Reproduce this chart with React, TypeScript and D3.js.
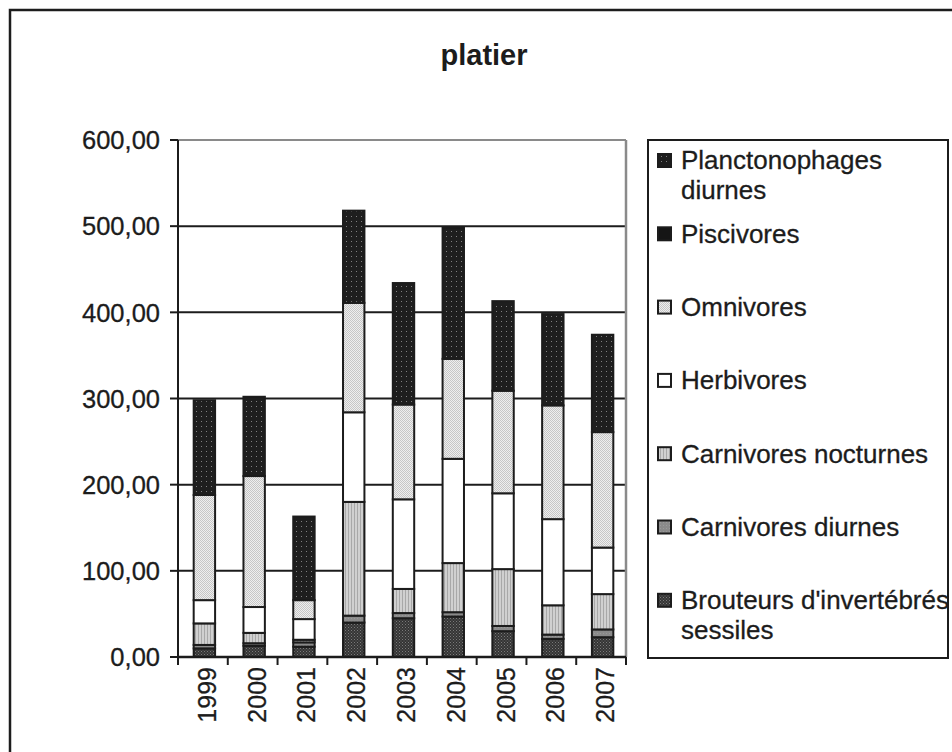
import React from 'react';
import * as d3 from 'd3';

// data (values stack bottom -> top)
const years = ['1999', '2000', '2001', '2002', '2003', '2004', '2005', '2006', '2007'];
const brouteurs = [10, 13, 12, 40, 45, 47, 30, 21, 23];
const carnDiurnes = [4, 3, 5, 8, 6, 5, 6, 5, 9];
const carnNocturnes = [25, 12, 3, 132, 28, 57, 66, 34, 41];
const herbivores = [27, 30, 24, 104, 104, 121, 88, 100, 54];
const omnivores = [122, 152, 22, 127, 110, 116, 119, 132, 134];
const piscivores = [0, 0, 0, 0, 0, 0, 0, 0, 0];
const planctonophages = [110, 92, 97, 107, 141, 152, 104, 106, 113];
const yTicks = [0, 100, 200, 300, 400, 500, 600];

const seriesKeys = ['brout', 'carnD', 'carnN', 'herb', 'omni', 'pisc', 'planct'];
const seriesLabels = [
  ["Brouteurs d'invertébrés", 'sessiles'],
  ['Carnivores diurnes'],
  ['Carnivores nocturnes'],
  ['Herbivores'],
  ['Omnivores'],
  ['Piscivores'],
  ['Planctonophages', 'diurnes'],
];
const seriesValues = [brouteurs, carnDiurnes, carnNocturnes, herbivores, omnivores, piscivores, planctonophages];

const W = 952;
const H = 752;
const margin = { left: 178, right: 626, top: 140, bottom: 657 };
const font = '"Liberation Sans", Arial, sans-serif';
const ink = '#1c1c1c';

const locale = d3.formatLocale({ decimal: ',', thousands: ' ', grouping: [3], currency: ['', ''] });
const fmt = locale.format('.2f');

function Patterns() {
  return (
    <defs>
      <pattern id="brout" width="3" height="3" patternUnits="userSpaceOnUse">
        <rect width="3" height="3" fill="#353535" />
        <rect x="0" y="0" width="1" height="1" fill="#7a7a7a" />
        <rect x="1.5" y="1.5" width="1" height="1" fill="#666" />
      </pattern>
      <pattern id="carnD" width="3" height="3" patternUnits="userSpaceOnUse">
        <rect width="3" height="3" fill="#8a8a8a" />
        <rect x="0" y="0" width="1" height="1" fill="#9a9a9a" />
      </pattern>
      <pattern id="carnN" width="3" height="3" patternUnits="userSpaceOnUse">
        <rect width="3" height="3" fill="#d0d0d0" />
        <rect x="0" y="0" width="1" height="3" fill="#a8a8a8" />
      </pattern>
      <pattern id="herb" width="3" height="3" patternUnits="userSpaceOnUse">
        <rect width="3" height="3" fill="#ffffff" />
      </pattern>
      <pattern id="omni" width="2" height="2" patternUnits="userSpaceOnUse">
        <rect width="2" height="2" fill="#eeeeee" />
        <rect x="0" y="0" width="1" height="1" fill="#c6c6c6" />
        <rect x="1" y="1" width="1" height="1" fill="#c6c6c6" />
      </pattern>
      <pattern id="pisc" width="3" height="3" patternUnits="userSpaceOnUse">
        <rect width="3" height="3" fill="#151515" />
      </pattern>
      <pattern id="planct" width="5" height="5" patternUnits="userSpaceOnUse">
        <rect width="5" height="5" fill="#1e1e1e" />
        <rect x="1" y="1" width="1" height="1" fill="#808080" />
      </pattern>
    </defs>
  );
}

export default function App() {
  const rows = years.map((year, i) => {
    const row: any = { year };
    seriesKeys.forEach((k, j) => (row[k] = seriesValues[j][i]));
    return row;
  });
  const stacked = d3.stack().keys(seriesKeys)(rows);

  const x = d3.scaleBand().domain(years).range([margin.left, margin.right]).padding(0);
  const y = d3.scaleLinear().domain([0, 600]).range([margin.bottom, margin.top]);
  const barW = x.bandwidth() * 0.43;

  const legendX = 648;
  const legendTop = 140;
  const legendStep = 73.3;

  return (
    <svg width={W} height={H} style={{ position: 'absolute', left: 0, top: 0, background: '#fff' }}>
      <Patterns />
      {/* outer chart frame, runs past right / bottom edge */}
      <rect x={10} y={10} width={960} height={760} fill="#fff" stroke={ink} strokeWidth={2.5} />

      <text x={484} y={65} textAnchor="middle" fontFamily={font} fontWeight="bold" fontSize={29} fill={ink}>
        platier
      </text>

      {/* gridlines */}
      {yTicks.filter((t) => t > 0 && t < 600).map((t) => (
        <line key={t} x1={margin.left} x2={margin.right} y1={y(t)} y2={y(t)} stroke={ink} strokeWidth={2} />
      ))}
      {/* plot area border top / right in grey */}
      <line x1={margin.left} x2={margin.right} y1={y(600)} y2={y(600)} stroke="#8a8a8a" strokeWidth={2} />
      <line x1={margin.right} x2={margin.right} y1={y(600)} y2={y(0)} stroke="#8a8a8a" strokeWidth={2.5} />

      {/* stacked bars */}
      {stacked.map((s) => (
        <g key={s.key}>
          {s.map((d, i) => {
            const h = y(d[0]) - y(d[1]);
            if (h <= 0) return null;
            const cx = (x(years[i]) as number) + x.bandwidth() / 2 + 1.5;
            return (
              <rect
                key={i}
                x={cx - barW / 2}
                y={y(d[1])}
                width={barW}
                height={h}
                fill={`url(#${s.key})`}
                stroke={ink}
                strokeWidth={2}
              />
            );
          })}
        </g>
      ))}

      {/* y axis */}
      <line x1={margin.left} x2={margin.left} y1={y(600)} y2={y(0)} stroke={ink} strokeWidth={2} />
      {yTicks.map((t) => (
        <g key={t}>
          <line x1={margin.left - 8} x2={margin.left} y1={y(t)} y2={y(t)} stroke={ink} strokeWidth={2} />
          <text
            x={160}
            y={y(t)}
            dy="0.36em"
            textAnchor="end"
            fontFamily={font}
            fontSize={25.5}
            fill={ink}
            stroke={ink}
            strokeWidth={0.3}
          >
            {fmt(t)}
          </text>
        </g>
      ))}

      {/* x axis */}
      <line x1={margin.left} x2={margin.right} y1={y(0)} y2={y(0)} stroke={ink} strokeWidth={2.5} />
      {years.map((yr) => (
        <line
          key={'t' + yr}
          x1={x(yr) as number}
          x2={x(yr) as number}
          y1={y(0)}
          y2={y(0) + 8}
          stroke={ink}
          strokeWidth={2}
        />
      ))}
      <line x1={margin.right} x2={margin.right} y1={y(0)} y2={y(0) + 8} stroke={ink} strokeWidth={2} />
      {years.map((yr) => {
        const cx = (x(yr) as number) + x.bandwidth() / 2 + 13;
        return (
          <text
            key={yr}
            transform={`translate(${cx},667) rotate(-90)`}
            textAnchor="end"
            fontFamily={font}
            fontSize={25}
            fill={ink}
            stroke={ink}
            strokeWidth={0.3}
          >
            {yr}
          </text>
        );
      })}

      {/* legend */}
      <rect x={legendX} y={legendTop} width={300} height={518} fill="#fff" stroke={ink} strokeWidth={2} />
      {seriesKeys
        .map((k, j) => ({ k, lines: seriesLabels[j] }))
        .reverse()
        .map((e, i) => {
          const cy = legendTop + 20 + i * legendStep;
          return (
            <g key={e.k}>
              <rect x={658} y={cy - 6} width={13} height={13} fill={`url(#${e.k})`} stroke={ink} strokeWidth={2} />
              {e.lines.map((ln, li) => (
                <text
                  key={li}
                  x={681}
                  y={cy + li * 30}
                  dy="0.36em"
                  fontFamily={font}
                  fontSize={26}
                  fill={ink}
                  stroke={ink}
                  strokeWidth={0.3}
                >
                  {ln}
                </text>
              ))}
            </g>
          );
        })}
    </svg>
  );
}
